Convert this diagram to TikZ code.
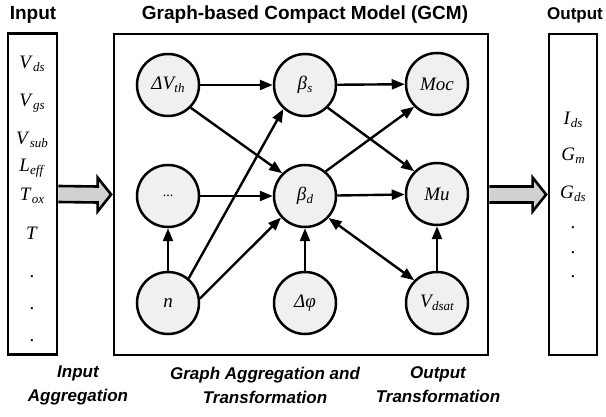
\documentclass[tikz,border=0pt]{standalone}
\usepackage{fontspec}
\setmainfont{Liberation Serif}
\setsansfont{Liberation Sans}
\usetikzlibrary{arrows.meta,calc}

% italic symbol with a lowered italic subscript
\newcommand\symsub[3][13]{\textit{#2}\kern0.3pt\raisebox{-0.35ex}{\fontsize{#1}{#1}\selectfont\textit{#3}}}

\tikzset{
  panel/.style={draw, line width=2.8pt, inner sep=0pt},
  var/.style={circle, draw, line width=2.5pt, fill=black!6, minimum size=62pt, inner sep=0pt,
    font=\fontsize{19}{19}\selectfont\itshape},
  link/.style={line width=2.4pt, -{Triangle[length=13pt,width=10pt]}},
  dlink/.style={line width=2.4pt, {Triangle[length=13pt,width=10pt]}-{Triangle[length=13pt,width=10pt]}},
  bigarrow/.style={draw, line width=2.6pt, fill=black!18, line join=miter},
  title/.style={font=\fontsize{19}{19}\selectfont\sffamily\bfseries},
  caption/.style={font=\fontsize{17}{24}\selectfont\sffamily\bfseries\itshape, align=center},
  item/.style={font=\fontsize{19}{19}\selectfont, inner sep=0pt},
}

\begin{document}
\begin{tikzpicture}[x=1pt, y=-1pt]
\useasboundingbox (0,0) rectangle (606,417);

% three panels
\node[panel, minimum width=49pt, minimum height=321pt] (inbox) at (32.5,194) {};
\node[panel, minimum width=374pt, minimum height=321pt] (gcm) at (301,194.5) {};
\node[panel, minimum width=48pt, minimum height=321pt] (outbox) at (573,194.5) {};

% panel titles
\node[title] (tin) at (33,15) {Input};
\node[title] (tgcm) at (305,15) {Graph-based Compact Model (GCM)};
\node[title, font=\fontsize{17}{17}\selectfont\sffamily\bfseries] (tout) at (575,15) {Output};

% input variables
\node[item] (vds) at (32,64) {\symsub{V}{ds}};
\node[item] (vgs) at (32,103) {\symsub{V}{gs}};
\node[item] (vsub) at (32,140) {\symsub{V}{sub}};
\node[item] (leff) at (32,168) {\symsub{L}{eff}};
\node[item] (tox) at (32,196) {\symsub{T}{ox}};
\node[item] (tt) at (32,233) {\textit{T}};
\node[item] (id1) at (32,277) {.};
\node[item] (id2) at (32,309) {.};
\node[item] (id3) at (32,341) {.};

% output quantities
\node[item] (ids) at (573,120) {\symsub{I}{ds}};
\node[item] (gm) at (573,156) {\symsub{G}{m}};
\node[item] (gds) at (573,194) {\symsub{G}{ds}};
\node[item] (od1) at (573,228) {.};
\node[item] (od2) at (573,253) {.};
\node[item] (od3) at (573,277) {.};

% graph nodes
\node[var] (dvth) at (168,85) {\textit{Δ}\symsub{V}{th}};
\node[var] (bs) at (305,85) {\symsub{β}{s}};
\node[var] (moc) at (437,84) {Moc};
\node[var] (etc) at (168,196) {\upshape\fontsize{14}{14}\selectfont...};
\node[var] (bd) at (305,196) {\symsub{β}{d}};
\node[var] (mu) at (437,194) {Mu};
\node[var] (n) at (168,303) {n};
\node[var] (dphi) at (305,303) {\textit{Δφ}};
\node[var] (vdsat) at (437,303) {\symsub{V}{dsat}};

% graph edges
\draw[link] (dvth) -- (bs);
\draw[link] (dvth.-45) -- (bd.135);
\draw[link] (etc) -- (bd);
\draw[link] (n) -- (etc);
\draw[link] (n.50) -- (bs.228);
\draw[link] (n.8) -- (bd.222);
\draw[link] (dphi) -- (bd);
\draw[link] (bs) -- (moc);
\draw[link] (bs.-45) -- (mu.135);
\draw[link] (bd.50) -- (moc.225);
\draw[link] (bd) -- (mu);
\draw[dlink] (bd.-43) -- (vdsat.135);
\draw[link] (vdsat) -- (mu);

% wide arrows between the panels
\draw[bigarrow] ($(inbox.east)+(0,-8)$) -- ($(gcm.west)+(-15,-8)$) -- ($(gcm.west)+(-15,-17)$)
  -- ($(gcm.west)+(-1.5,0)$) -- ($(gcm.west)+(-15,17)$) -- ($(gcm.west)+(-15,8)$)
  -- ($(inbox.east)+(0,8)$);
\draw[bigarrow] ($(gcm.east)+(0,-8)$) -- ($(outbox.west)+(-15,-8)$) -- ($(outbox.west)+(-15,-17)$)
  -- ($(outbox.west)+(-1.5,0)$) -- ($(outbox.west)+(-15,17)$) -- ($(outbox.west)+(-15,8)$)
  -- ($(gcm.east)+(0,8)$);

% stage captions
\node[caption] (cin) at (78,385) {Input\\Aggregation};
\node[caption] (cgcm) at (265,385) {Graph Aggregation and\\Transformation};
\node[caption] (cout) at (438,385) {Output\\Transformation};
\end{tikzpicture}
\end{document}
